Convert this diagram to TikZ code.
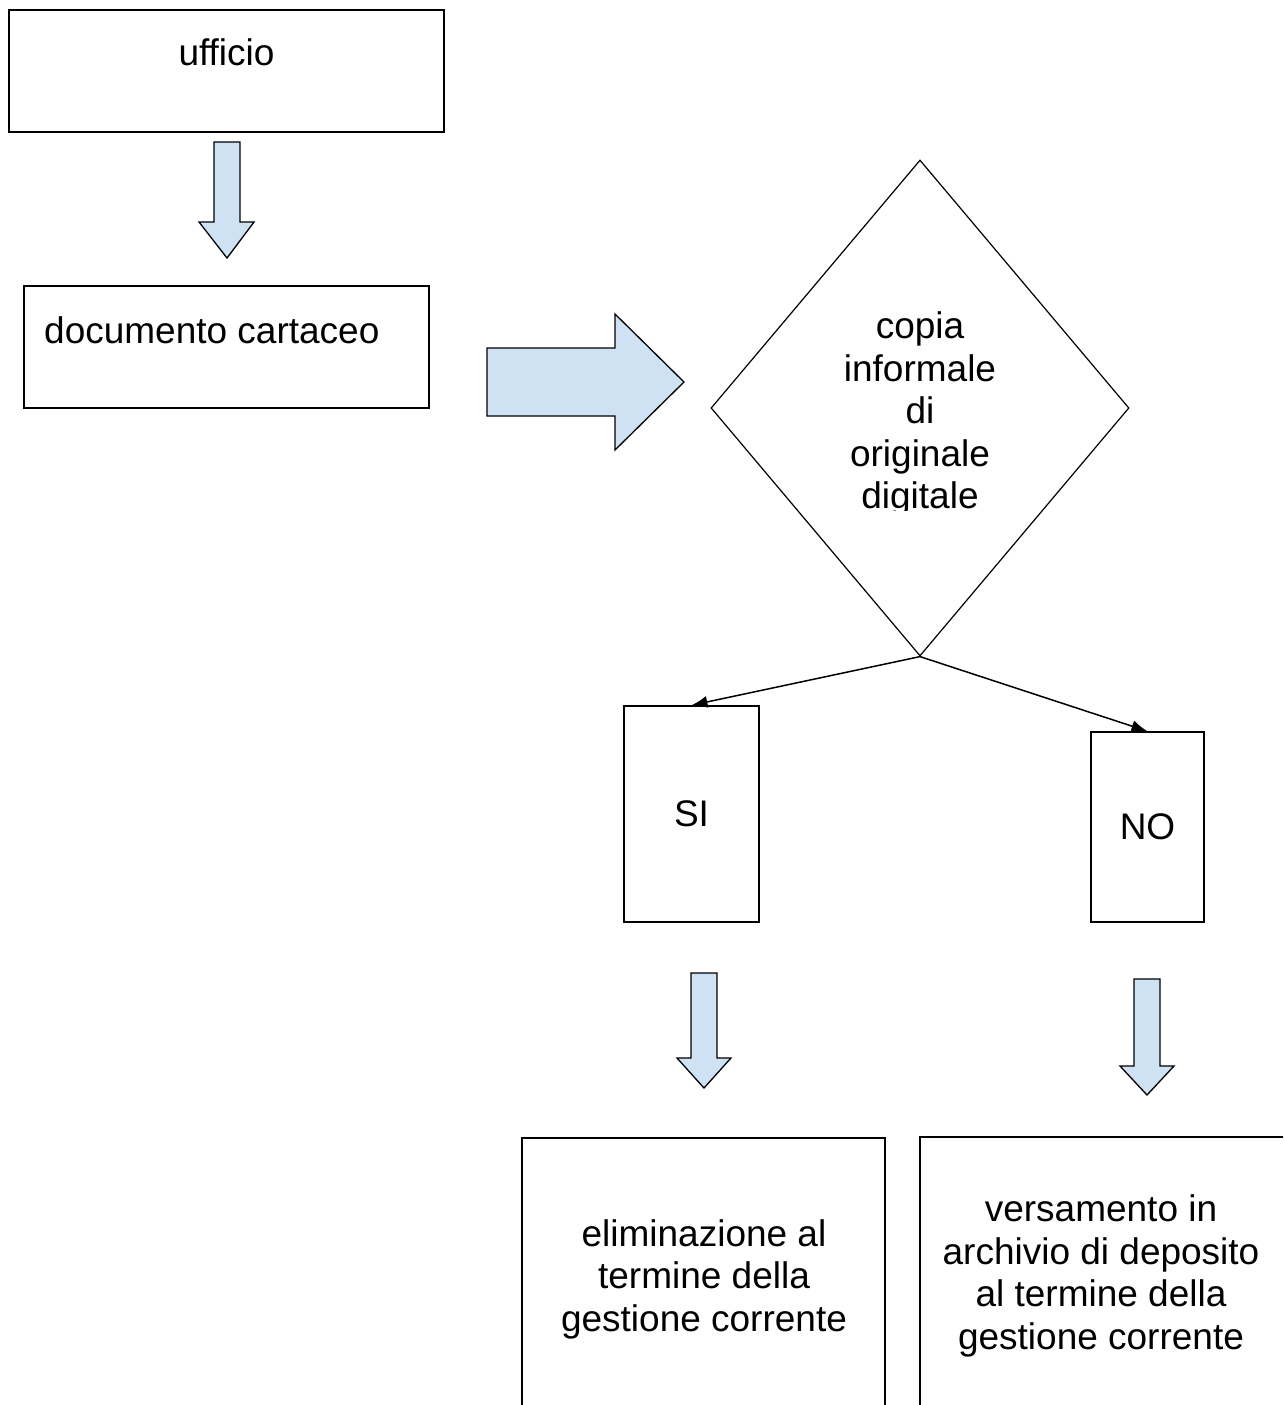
\documentclass[tikz,border=0pt]{standalone}
\usepackage{fontspec}
\setmainfont{Liberation Sans}
\usepackage{tikz}
\usetikzlibrary{arrows.meta,calc,positioning,shapes.geometric}
\definecolor{freccia-blu}{HTML}{CFE2F3}

\begin{document}
\begin{tikzpicture}[>={Latex[length=16pt,width=12pt]},x=1pt,y=-1pt,
  box/.style={draw,line width=1.5pt,inner sep=0pt},
  testo/.style={inner sep=0pt,align=center,font=\fontsize{37}{42.5}\selectfont},
  blocco/.style={draw,fill=freccia-blu,line width=1.3pt,line join=miter}]
  \useasboundingbox (0,0) rectangle (1283,1405);
  \clip (0,0) rectangle (1283,1405);

  % Ufficio e documento
  \node[box,minimum width=435pt,minimum height=122pt] (ufficio) at (226.5,71) {};
  \node[testo] (ufficiotxt) at (226.5,52) {ufficio};
  \node[box,minimum width=405pt,minimum height=122pt] (documento) at (226.5,347) {};
  \node[testo,anchor=west] (documentotxt) at (44,330) {documento cartaceo};

  % Frecce a blocco
  \draw[blocco] (214,142) -- (240,142) -- (240,222) -- (254,222) -- (227,258)
    -- (199,222) -- (214,222) -- cycle;
  \draw[blocco] (487,348) -- (615,348) -- (615,314) -- (684,382) -- (615,450)
    -- (615,416) -- (487,416) -- cycle;

  % Rombo: copia informale
  \node[draw,diamond,line width=1.2pt,inner sep=0pt,
    minimum width=418pt,minimum height=496pt] (copia) at (920,408) {};
  \begin{scope}
    \clip (700,150) rectangle (1140,510);
    \node[testo] (copiatxt) at (920,414)
      {copia\\informale\\di\\originale\\digitale};
  \end{scope}

  % SI / NO
  \node[box,testo,minimum width=135pt,minimum height=216pt] (si) at (691.5,814) {SI};
  \node[box,testo,minimum width=113pt,minimum height=190pt] (no) at (1147.5,827) {NO};
  \draw[->,line width=1.5pt] (copia.south) -- (si.north);
  \draw[->,line width=1.5pt] (copia.south) -- (no.north);

  \draw[blocco] (691,973) -- (717,973) -- (717,1058) -- (731,1058) -- (704,1088)
    -- (677,1058) -- (691,1058) -- cycle;
  \draw[blocco] (1134,979) -- (1160,979) -- (1160,1066) -- (1174,1066) -- (1147,1095)
    -- (1120,1066) -- (1134,1066) -- cycle;

  % Esiti
  \node[box,minimum width=363pt,minimum height=322pt] (eliminazione) at (703.5,1299) {};
  \node[testo] (eliminazionetxt) at (704,1279)
    {eliminazione al\\termine della\\gestione corrente};
  \node[box,minimum width=410pt,minimum height=323pt] (versamento) at (1125,1298.5) {};
  \node[testo] (versamentotxt) at (1101,1276)
    {versamento in\\archivio di deposito\\al termine della\\gestione corrente};
\end{tikzpicture}
\end{document}
